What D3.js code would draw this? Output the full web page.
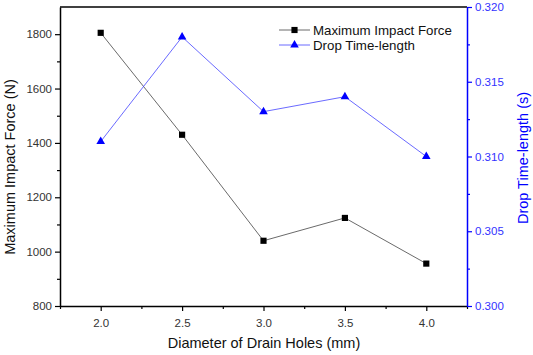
<!DOCTYPE html>
<html>
<head>
<meta charset="utf-8">
<script src="https://cdn.jsdelivr.net/npm/d3@7"></script>
<style>
body { margin: 0; background: #fff; }
text { font-family: "Liberation Sans", Arial, sans-serif; }
</style>
</head>
<body>
<svg id="chart" width="533" height="355"></svg>
<script>
var diameters = [2.0, 2.5, 3.0, 3.5, 4.0];
var impactForce = [1805, 1430, 1040, 1124, 956];
var dropTime = [0.311, 0.318, 0.313, 0.314, 0.310];
var xTicks = [2.0, 2.5, 3.0, 3.5, 4.0];
var yLeftTicks = [800, 1000, 1200, 1400, 1600, 1800];
var yRightTicks = [0.300, 0.305, 0.310, 0.315, 0.320];

var pLeft = 60, pRight = 467, pTop = 7, pBottom = 306;
var svg = d3.select("#chart");

var x = d3.scaleLinear().domain([1.75, 4.25]).range([pLeft, pRight]);
var yL = d3.scaleLinear().domain([800, 1900]).range([pBottom, pTop]);
var yR = d3.scaleLinear().domain([0.300, 0.320]).range([pBottom, pTop]);

// frame: top line
svg.append("line").attr("x1", pLeft).attr("x2", pRight).attr("y1", pTop).attr("y2", pTop)
	.attr("stroke", "#000").attr("stroke-width", 1.5);

// bottom axis
var xAxis = svg.append("g").attr("transform", "translate(0," + pBottom + ")")
	.call(d3.axisBottom(x).tickValues(xTicks).tickFormat(d3.format(".1f")).tickSize(5).tickSizeOuter(0));
svg.append("g").attr("transform", "translate(0," + pBottom + ")")
	.call(d3.axisBottom(x).tickValues([1.75, 2.25, 2.75, 3.25, 3.75, 4.25]).tickFormat("").tickSize(3).tickSizeOuter(0))
	.select(".domain").remove();

// left axis
var yAxisL = svg.append("g").attr("transform", "translate(" + pLeft + ",0)")
	.call(d3.axisLeft(yL).tickValues(yLeftTicks).tickFormat(d3.format("d")).tickSize(5).tickSizeOuter(0));
svg.append("g").attr("transform", "translate(" + pLeft + ",0)")
	.call(d3.axisLeft(yL).tickValues([900, 1100, 1300, 1500, 1700]).tickFormat("").tickSize(3).tickSizeOuter(0))
	.select(".domain").remove();

// right axis
var yAxisR = svg.append("g").attr("class", "raxis").attr("transform", "translate(" + pRight + ",0)")
	.call(d3.axisRight(yR).tickValues(yRightTicks).tickFormat(d3.format(".3f")).tickSize(5).tickSizeOuter(0));
svg.append("g").attr("class", "raxis").attr("transform", "translate(" + pRight + ",0)")
	.call(d3.axisRight(yR).tickValues([0.3025, 0.3075, 0.3125, 0.3175]).tickFormat("").tickSize(3).tickSizeOuter(0))
	.select(".domain").remove();

svg.selectAll(".domain").attr("stroke-width", 1.5);
svg.selectAll(".tick line").attr("stroke-width", 1.2);
svg.selectAll(".tick text").attr("font-size", "11.5px").attr("fill", "#333")
	.attr("font-family", "Liberation Sans, Arial, sans-serif");
svg.selectAll(".raxis").selectAll(".domain, .tick line").attr("stroke", "#0000ff");
yAxisR.selectAll(".tick text").attr("fill", "#3333ff");
xAxis.selectAll(".tick text").attr("dy", "1.15em");

// axis titles
svg.append("text").attr("x", 264).attr("y", 348).attr("text-anchor", "middle")
	.attr("font-size", "14.5px").attr("fill", "#111").text("Diameter of Drain Holes (mm)");
svg.append("text").attr("transform", "translate(15,167) rotate(-90)")
	.attr("text-anchor", "middle").attr("font-size", "14.5px").attr("fill", "#111").text("Maximum Impact Force (N)");
svg.append("text").attr("transform", "translate(528,158) rotate(-90)")
	.attr("text-anchor", "middle").attr("font-size", "14.5px").attr("fill", "#0000ff").text("Drop Time-length (s)");

// series
var forceData = diameters.map(function(d, i){ return [d, impactForce[i]]; });
var timeData = diameters.map(function(d, i){ return [d, dropTime[i]]; });

svg.append("path").datum(forceData)
	.attr("d", d3.line().x(function(d){ return x(d[0]); }).y(function(d){ return yL(d[1]); }))
	.attr("fill", "none").attr("stroke", "#444").attr("stroke-width", 0.8);
svg.append("path").datum(timeData)
	.attr("d", d3.line().x(function(d){ return x(d[0]); }).y(function(d){ return yR(d[1]); }))
	.attr("fill", "none").attr("stroke", "#4444ff").attr("stroke-width", 0.8);

var square = d3.symbol().type(d3.symbolSquare).size(38);
var tri = d3.symbol().type(d3.symbolTriangle).size(32);

svg.append("g").selectAll("path").data(forceData).enter().append("path")
	.attr("transform", function(d){ return "translate(" + x(d[0]) + "," + yL(d[1]) + ")"; })
	.attr("d", square).attr("fill", "#000");
svg.append("g").selectAll("path").data(timeData).enter().append("path")
	.attr("transform", function(d){ return "translate(" + x(d[0]) + "," + yR(d[1]) + ")"; })
	.attr("d", tri).attr("fill", "#0000ff");

// legend
var legend = svg.append("g").attr("transform", "translate(279,30)");
legend.append("line").attr("x1", 0).attr("x2", 31).attr("y1", 0).attr("y2", 0).attr("stroke", "#444").attr("stroke-width", 0.8);
legend.append("path").attr("transform", "translate(15.5,0)").attr("d", square).attr("fill", "#000");
legend.append("text").attr("x", 34).attr("y", 4.5).attr("font-size", "13.3px").attr("fill", "#111").text("Maximum Impact Force");
legend.append("line").attr("x1", 0).attr("x2", 31).attr("y1", 15).attr("y2", 15).attr("stroke", "#4444ff").attr("stroke-width", 0.8);
legend.append("path").attr("transform", "translate(15.5,15)").attr("d", tri).attr("fill", "#0000ff");
legend.append("text").attr("x", 34).attr("y", 19.5).attr("font-size", "13.3px").attr("fill", "#111").text("Drop Time-length");
</script>
</body>
</html>
